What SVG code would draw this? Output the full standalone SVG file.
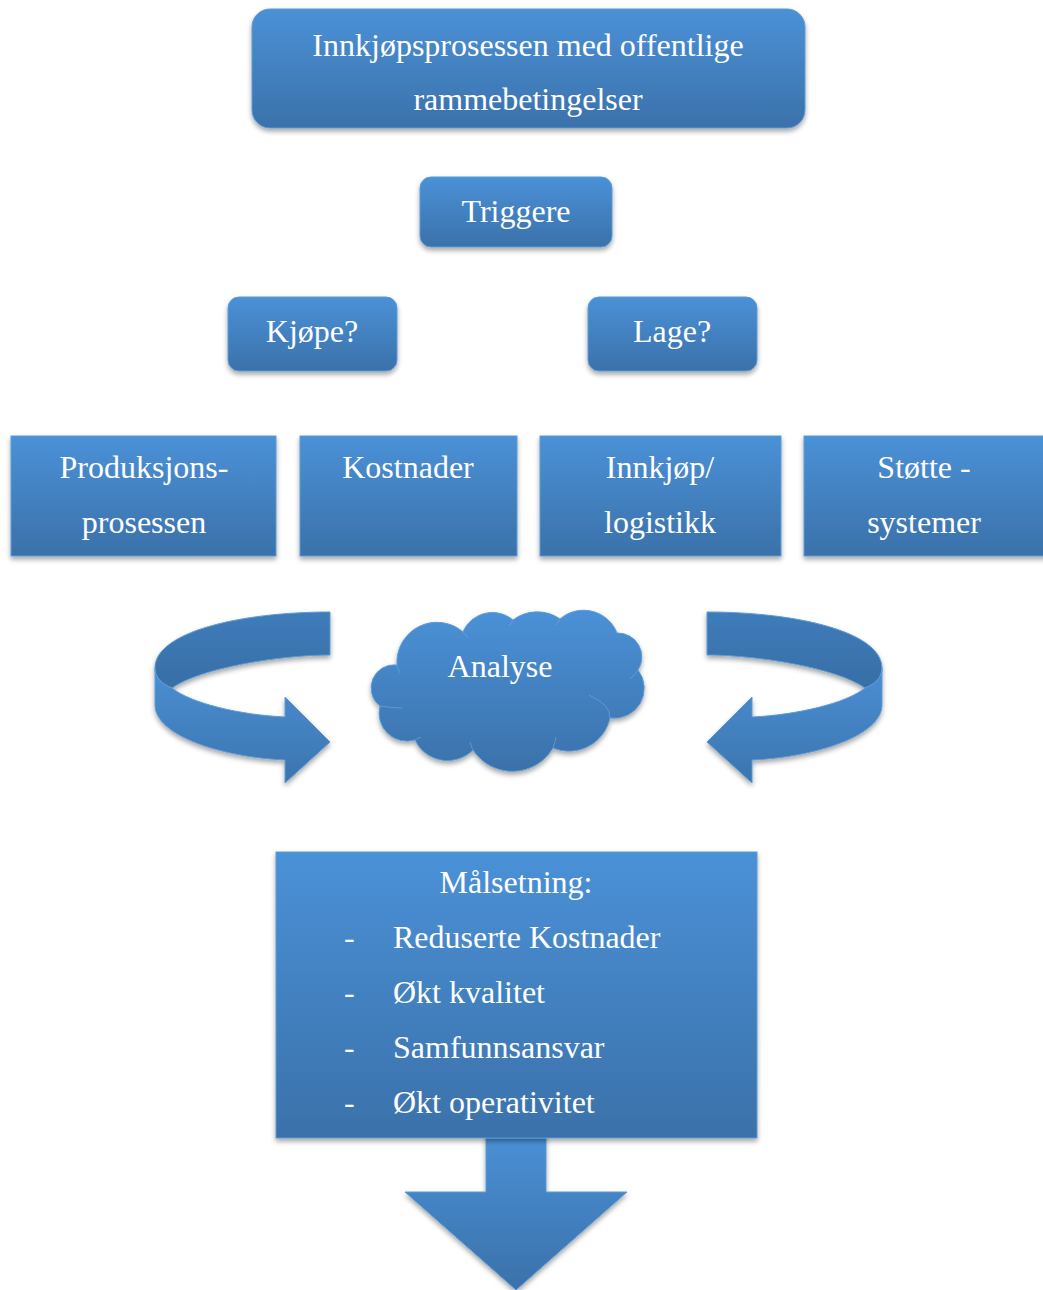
<svg xmlns="http://www.w3.org/2000/svg" width="1043" height="1290" viewBox="0 0 1043 1290">
  <defs>
    <linearGradient id="g" x1="0" y1="0" x2="0" y2="1">
      <stop offset="0" stop-color="#4a91d7"/>
      <stop offset="1" stop-color="#3b71aa"/>
    </linearGradient>
    <linearGradient id="gBack" x1="0" y1="0" x2="0" y2="1">
      <stop offset="0" stop-color="#3f7cbb"/>
      <stop offset="1" stop-color="#386ea6"/>
    </linearGradient>
    <linearGradient id="gFront" x1="0" y1="0" x2="0" y2="1">
      <stop offset="0" stop-color="#4a8fd4"/>
      <stop offset="1" stop-color="#3c74ae"/>
    </linearGradient>
    <filter id="sh" x="-10%" y="-10%" width="120%" height="130%">
      <feDropShadow dx="0" dy="3" stdDeviation="2.5" flood-color="#000" flood-opacity="0.35"/>
    </filter>
    <g id="curl">
      <path d="M330,612 C240,612 155,632 155,668 C155,678 162,684 172,688 C200,668 280,655 330,655 Z" fill="url(#gBack)" stroke="#5b9bd5" stroke-width="1"/>
      <path d="M155,668 L155,705 C155,735 220,757 285,760 L285,783 L330,742 L285,697 L285,717 C240,715 190,703 172,688 C162,684 155,678 155,668 Z" fill="url(#gFront)" stroke="#5b9bd5" stroke-width="1"/>
    </g>
  </defs>
  <style>
    .box { fill: url(#g); stroke: #5b9bd5; stroke-width: 1; filter: url(#sh); }
    .c { text-anchor: middle; }
  </style>

  <g id="connectors">
    <g id="curl-left" filter="url(#sh)"><use href="#curl"/></g>
    <g id="curl-right" filter="url(#sh)"><use href="#curl" transform="translate(1037,0) scale(-1,1)"/></g>
    <path id="down-arrow" class="box" d="M486,1130 L546,1130 L546,1192 L627,1192 L516,1290 L405,1192 L486,1192 Z"/>
  </g>

  <g font-family="Liberation Serif, DejaVu Serif, serif" font-size="32" fill="#ffffff">
  <g id="n-top">
    <rect class="box" x="252" y="9" width="553" height="119" rx="18"/>
    <text class="c" x="528" y="56">Innkjøpsprosessen med offentlige</text>
    <text class="c" x="528" y="110">rammebetingelser</text>
  </g>

  <g id="n-triggere">
    <rect class="box" x="420" y="177" width="192" height="70" rx="11"/>
    <text class="c" x="516" y="222">Triggere</text>
  </g>

  <g id="n-kjope">
    <rect class="box" x="228" y="297" width="169" height="74" rx="11"/>
    <text class="c" x="312" y="342">Kjøpe?</text>
  </g>

  <g id="n-lage">
    <rect class="box" x="588" y="297" width="169" height="74" rx="11"/>
    <text class="c" x="672" y="342">Lage?</text>
  </g>

  <g id="n-produksjon">
    <rect class="box" x="11" y="436" width="265" height="120"/>
    <text class="c" x="144" y="478">Produksjons-</text>
    <text class="c" x="144" y="533">prosessen</text>
  </g>

  <g id="n-kostnader">
    <rect class="box" x="300" y="436" width="217" height="120"/>
    <text class="c" x="408" y="478">Kostnader</text>
  </g>

  <g id="n-innkjop">
    <rect class="box" x="540" y="436" width="241" height="120"/>
    <text class="c" x="660" y="478">Innkjøp/</text>
    <text class="c" x="660" y="533">logistikk</text>
  </g>

  <g id="n-stotte">
    <rect class="box" x="804" y="436" width="245" height="120"/>
    <text class="c" x="924" y="478">Støtte -</text>
    <text class="c" x="924" y="533">systemer</text>
  </g>

  <g id="n-analyse">
    <path class="box" d="M397,665 A40,40 0 0 1 463,632 A32,32 0 0 1 513,620 A40,40 0 0 1 560,619 A36,36 0 0 1 617,633 A24,24 0 0 1 638,670 A30,30 0 0 1 610,718 A42,42 0 0 1 553,748 A47,47 0 0 1 473,750 A36,36 0 0 1 415,740 A28,28 0 0 1 380,706 A23,23 0 0 1 397,665 Z"/>
    <g fill="none" stroke="#6aa6dd" stroke-width="1" opacity="0.7">
      <path d="M397,665 Q398,670 400,673"/>
      <path d="M463,632 Q466,635 468,638"/>
      <path d="M513,620 Q511,623 509,626"/>
      <path d="M560,619 Q558,622 556,625"/>
      <path d="M638,670 Q634,676 630,679"/>
      <path d="M610,718 Q611,705 589,695"/>
      <path d="M553,748 Q555,742 556,737"/>
      <path d="M473,750 Q471,746 470,742"/>
      <path d="M415,740 Q418,738 421,737"/>
      <path d="M380,706 Q392,708 402,708"/>
    </g>
    <text class="c" x="500" y="677">Analyse</text>
  </g>

  <g id="n-malsetning">
    <rect class="box" x="276" y="852" width="481" height="286"/>
    <text class="c" x="516" y="893">Målsetning:</text>
    <text x="344" y="948">-</text>
    <text x="393" y="948">Reduserte Kostnader</text>
    <text x="344" y="1003">-</text>
    <text x="393" y="1003">Økt kvalitet</text>
    <text x="344" y="1058">-</text>
    <text x="393" y="1058">Samfunnsansvar</text>
    <text x="344" y="1113">-</text>
    <text x="393" y="1113">Økt operativitet</text>
  </g>
  </g>
</svg>
